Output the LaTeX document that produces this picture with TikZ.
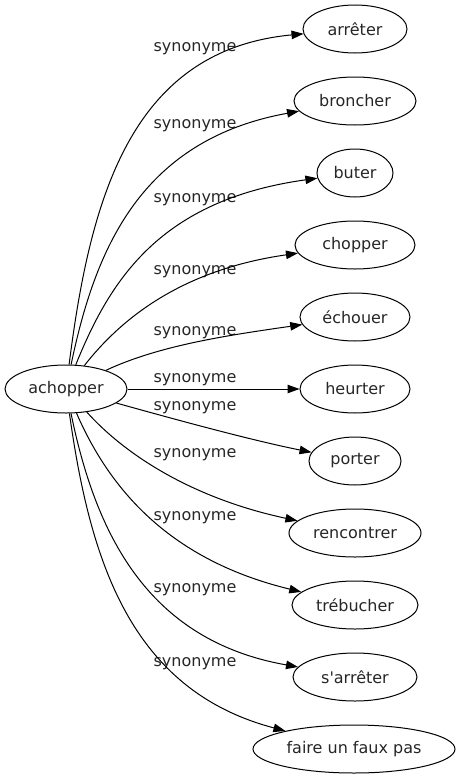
\documentclass[tikz,border=0pt]{standalone}
\usepackage{fontspec}
\setmainfont{DejaVu Sans}[Ligatures=TeXOff]
\usetikzlibrary{arrows.meta,shapes.geometric}
\begin{document}
\begin{tikzpicture}[x=1pt,y=-1pt,
  word/.style={draw,ellipse,inner sep=0pt,minimum height=48pt,line width=1pt,text=black!85,font=\fontsize{16}{18}\selectfont},
  lab/.style={inner sep=0pt,text=black!85,font=\fontsize{16}{18}\selectfont},
  rel/.style={line width=1pt,-{Triangle[length=12pt,width=8.5pt]}}]
\useasboundingbox (0,0) rectangle (461,779);
\node[word,minimum width=122pt] (a) at (66,389) {achopper};
\node[word,minimum width=104pt] (n1) at (355,29) {arrêter};
\node[word,minimum width=122pt] (n2) at (355,101) {broncher};
\node[word,minimum width=76pt] (n3) at (355,173) {buter};
\node[word,minimum width=120pt] (n4) at (355,245) {chopper};
\node[word,minimum width=110pt] (n5) at (355,317) {échouer};
\node[word,minimum width=110pt] (n6) at (355,389) {heurter};
\node[word,minimum width=92pt] (n7) at (355,461) {porter};
\node[word,minimum width=132pt] (n8) at (355,533) {rencontrer};
\node[word,minimum width=126pt] (n9) at (355,605) {trébucher};
\node[word,minimum width=124pt] (n10) at (355,677) {s'arrêter};
\node[word,minimum width=202pt] (n11) at (354,749) {faire un faux pas};
\node[lab] (l1) at (195,49) {synonyme};
\node[lab] (l2) at (195,126) {synonyme};
\node[lab] (l3) at (195,200) {synonyme};
\node[lab] (l4) at (195,272) {synonyme};
\node[lab] (l5) at (195,333) {synonyme};
\node[lab] (l6) at (195,380) {synonyme};
\node[lab] (l7) at (195,408) {synonyme};
\node[lab] (l8) at (195,455) {synonyme};
\node[lab] (l9) at (195,518) {synonyme};
\node[lab] (l10) at (195,590) {synonyme};
\node[lab] (l11) at (195,664) {synonyme};
\draw[rel] (a) .. controls (90,200) and (130,50) .. (n1);
\draw[rel] (a) .. controls (95,250) and (140,140) .. (n2);
\draw[rel] (a) .. controls (110,280) and (160,200) .. (n3);
\draw[rel] (a) .. controls (120,320) and (180,270) .. (n4);
\draw[rel] (a) .. controls (160,345) and (230,335) .. (n5);
\draw[rel] (a) -- (n6);
\draw[rel] (a) .. controls (170,418) and (250,440) .. (n7);
\draw[rel] (a) .. controls (130,460) and (200,500) .. (n8);
\draw[rel] (a) .. controls (110,490) and (170,560) .. (n9);
\draw[rel] (a) .. controls (95,530) and (145,640) .. (n10);
\draw[rel] (a) .. controls (90,560) and (130,690) .. (n11);
\end{tikzpicture}
\end{document}
